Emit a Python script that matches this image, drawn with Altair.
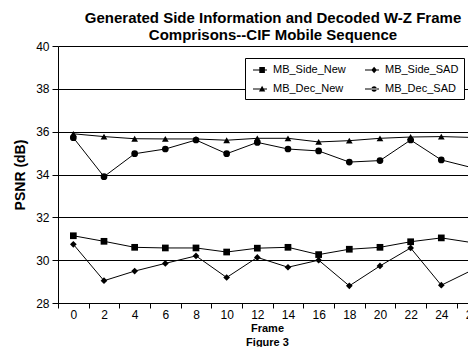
import altair as alt
import pandas as pd

frames = [0, 2, 4, 6, 8, 10, 12, 14, 16, 18, 20, 22, 24, 26]
series_names = ["MB_Side_New", "MB_Side_SAD", "MB_Dec_New", "MB_Dec_SAD"]
side_new = [31.14, 30.88, 30.60, 30.57, 30.57, 30.38, 30.56, 30.60, 30.26, 30.51, 30.60, 30.86, 31.04, 30.82]
side_sad = [30.74, 29.04, 29.49, 29.85, 30.20, 29.19, 30.13, 29.67, 30.00, 28.80, 29.73, 30.57, 28.83, 29.53]
dec_new = [35.90, 35.77, 35.67, 35.66, 35.66, 35.60, 35.69, 35.69, 35.52, 35.58, 35.69, 35.75, 35.77, 35.73]
dec_sad = [35.72, 33.90, 34.97, 35.19, 35.61, 34.97, 35.50, 35.19, 35.10, 34.58, 34.65, 35.61, 34.68, 34.32]
y_ticks = [28, 30, 32, 34, 36, 38, 40]

rows = []
for name, vals in zip(series_names, [side_new, side_sad, dec_new, dec_sad]):
    for f, v in zip(frames, vals):
        rows.append({"frame": f, "psnr": v, "series": name})
df = pd.DataFrame(rows)

FONT = "Liberation Sans"

x_enc = alt.X(
    "frame:O",
    scale=alt.Scale(type="band", paddingInner=0, paddingOuter=0, range=[0, 429.3]),
    axis=alt.Axis(
        title=["Frame", "Figure 3"], titleFontSize=11, titleFontWeight="bold",
        titleLineHeight=14, titlePadding=2, titleFont=FONT, titleX=209,
        labelAngle=0, labelFontSize=12, labelFont=FONT, labelColor="black",
        labelPadding=1, tickSize=5, tickBand="extent", tickColor="black",
        domainColor="black", grid=False, labelBaseline="top",
    ),
)
y_enc = alt.Y(
    "psnr:Q",
    scale=alt.Scale(domain=[28, 40], nice=False, zero=False),
    axis=alt.Axis(
        values=y_ticks, title="PSNR (dB)", titleFontSize=14, titleFontWeight="bold",
        titleFont=FONT, titlePadding=8, labelFontSize=12, labelFont=FONT,
        labelColor="black", labelPadding=3, tickSize=6, tickColor="black",
        domainColor="black", grid=True, gridColor="black", gridOpacity=1,
        gridWidth=1,
    ),
)

lines = alt.Chart(df).mark_line(color="black", strokeWidth=1).encode(
    x=x_enc, y=y_enc, detail="series:N"
)

points = alt.Chart(df).mark_point(filled=True, color="black", size=45, opacity=1).encode(
    x=x_enc, y=y_enc,
    shape=alt.Shape(
        "series:N",
        scale=alt.Scale(domain=series_names,
                        range=["square", "diamond", "triangle-up", "circle"]),
        legend=None,
    ),
)

BAR = "M-1,-0.07H1V0.07H-1Z"
leg_paths = [
    BAR + "M-0.1,-0.42H0.7V0.42H-0.1Z",
    BAR + "M0.3,-0.45L0.7,0L0.3,0.45L-0.1,0Z",
    BAR + "M0.3,-0.45L0.75,0.35L-0.15,0.35Z",
    BAR + "M-0.1,0A0.4,0.4 0 1,0 0.7,0A0.4,0.4 0 1,0 -0.1,0Z",
]

legend_layer = alt.Chart(df).mark_point(
    filled=True, fill="black", stroke="black", strokeWidth=1, opacity=0
).encode(
    x=x_enc, y=y_enc,
    shape=alt.Shape(
        "series:N",
        scale=alt.Scale(domain=series_names, range=leg_paths),
        legend=alt.Legend(
            title=None, orient="none", legendX=187, legendY=12, columns=2,
            direction="horizontal",
            symbolSize=196, symbolOpacity=1, symbolFillColor="black",
            symbolStrokeColor="black", symbolStrokeWidth=0,
            symbolOffset=3, labelOffset=6,
            labelFont=FONT, labelFontSize=11, labelColor="black",
            padding=5, rowPadding=7, columnPadding=16,
            strokeColor="black", fillColor="white",
        ),
    ),
)

chart = alt.layer(lines, points, legend_layer).resolve_scale(
    shape="independent"
).resolve_legend(shape="independent").properties(
    width=410, height=257,
    title=alt.TitleParams(
        text=["Generated Side Information and Decoded W-Z Frame",
              "Comprisons--CIF Mobile Sequence"],
        font=FONT, fontSize=15, fontWeight="bold", color="black",
        lineHeight=17, anchor="middle", offset=-3, dx=10,
    ),
    autosize=alt.AutoSizeParams(type="none"),
    padding={"left": 50, "top": 38, "right": 0, "bottom": 44},
).configure_view(stroke=None).configure(background="white")

chart.save("out.html", embed_options={"renderer": "svg", "actions": False})
